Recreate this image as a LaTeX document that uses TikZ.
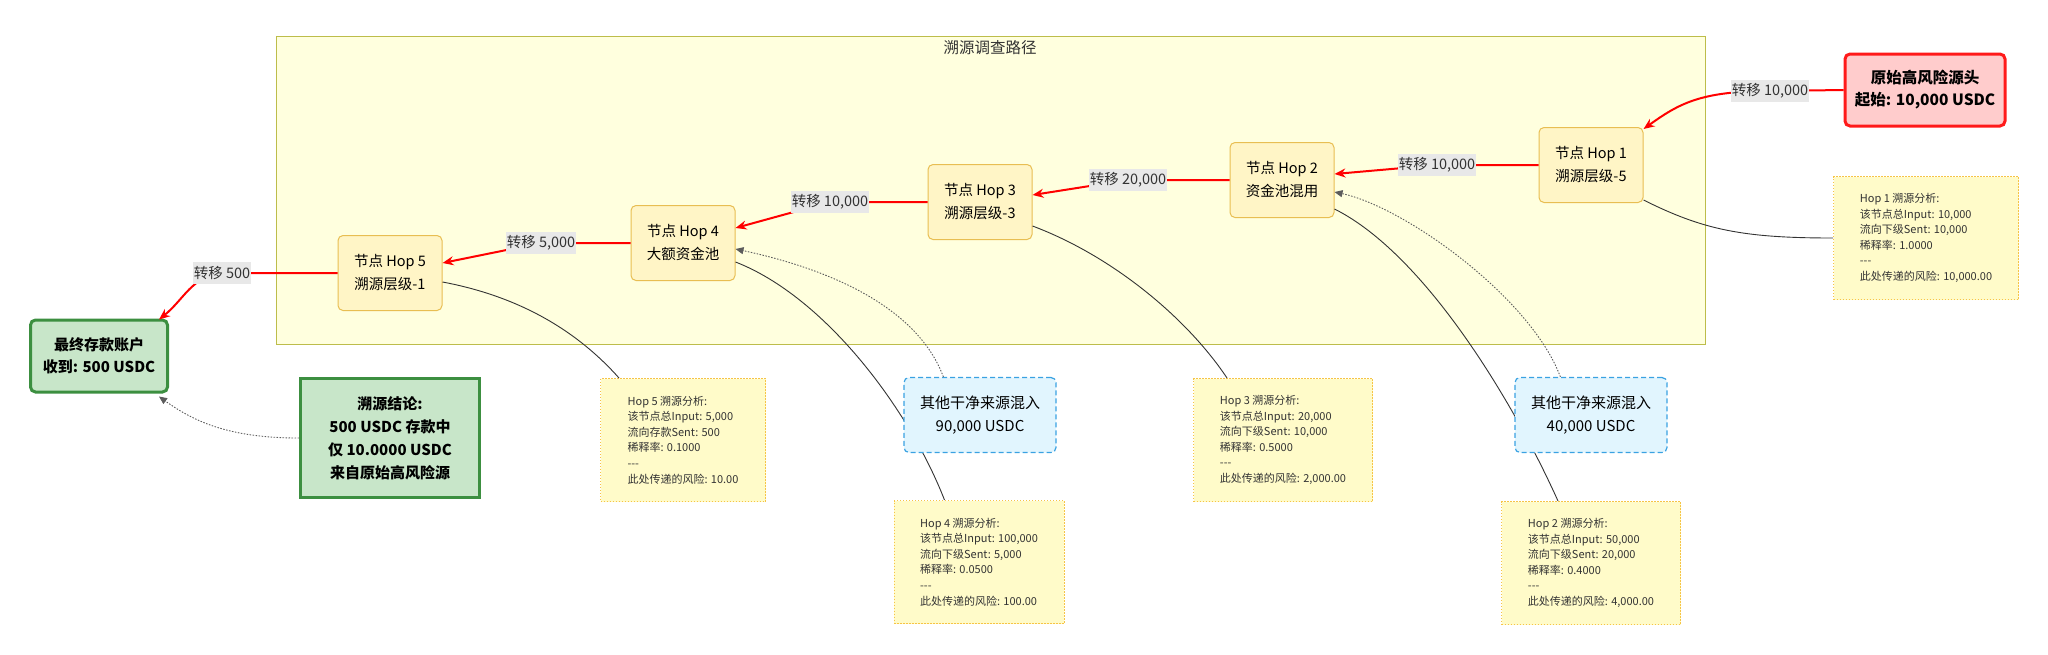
\documentclass[tikz,border=0pt]{standalone}
\usepackage{fontspec}
\setmainfont{Noto Sans CJK SC}
\usetikzlibrary{arrows.meta}

\definecolor{clfill}{HTML}{FFFFDE}
\definecolor{cldraw}{HTML}{BDBD4A}
\definecolor{hopfill}{HTML}{FFF5C6}
\definecolor{hopdraw}{HTML}{E8BE52}
\definecolor{srcfill}{HTML}{FFCCCC}
\definecolor{srcdraw}{HTML}{FF1A1A}
\definecolor{okfill}{HTML}{C8E6C9}
\definecolor{okdraw}{HTML}{3C8F40}
\definecolor{mixfill}{HTML}{E1F5FE}
\definecolor{mixdraw}{HTML}{3AA2E2}
\definecolor{notefill}{HTML}{FFFBC9}
\definecolor{notedraw}{HTML}{F6C446}
\definecolor{txt}{HTML}{333333}
\definecolor{lblfill}{HTML}{E8E8E8}

\begin{document}
\begin{tikzpicture}
  [x=1pt,y=-1pt,
   clbox/.style={draw=cldraw,fill=clfill,line width=1pt,inner sep=0pt,minimum width=1429pt,minimum height=308pt},
   cltitle/.style={text=txt,font=\fontsize{15.5}{18}\selectfont,inner sep=0pt},
   hop/.style={draw=hopdraw,fill=hopfill,rounded corners=5pt,line width=1pt,minimum width=104pt,minimum height=75pt,align=center,text=black,font=\fontsize{14.5}{23}\selectfont},
   src/.style={draw=srcdraw,fill=srcfill,rounded corners=5pt,line width=3pt,minimum width=160pt,minimum height=72pt,align=center,font=\bfseries\fontsize{15.5}{22}\selectfont},
   dst/.style={draw=okdraw,fill=okfill,rounded corners=5pt,line width=3pt,minimum width=137pt,minimum height=72pt,align=center,font=\bfseries\fontsize{15}{22}\selectfont},
   verdict/.style={draw=okdraw,fill=okfill,line width=3pt,minimum width=179pt,minimum height=119pt,align=center,font=\bfseries\fontsize{15}{23}\selectfont},
   mix/.style={draw=mixdraw,fill=mixfill,rounded corners=5pt,line width=1.2pt,dash pattern=on 5pt off 3pt,minimum width=152pt,minimum height=75pt,align=center,text=black,font=\fontsize{15}{23}\selectfont},
   note/.style={draw=notedraw,fill=notefill,line width=1pt,dash pattern=on 1.5pt off 1.5pt,minimum height=123pt,align=left,text=txt,font=\fontsize{11}{15.6}\selectfont},
   elabel/.style={fill=lblfill,text=txt,inner xsep=1pt,inner ysep=0pt,minimum height=22pt,font=\fontsize{14.5}{17}\selectfont},
   flow/.style={draw=red,line width=2pt,-{Stealth[length=11pt,width=9pt]}},
   link/.style={draw=txt,line width=0.9pt},
   mixflow/.style={draw=txt!80,line width=0.9pt,dash pattern=on 1.5pt off 1.5pt,-{Triangle[length=8pt,width=7pt]}}]
  \useasboundingbox (0,0) rectangle (2048,654);

  % cluster
  \node[clbox] (cl) at (990.5,190) {};
  \node[cltitle] (cltxt) at (990,48) {溯源调查路径};

  \node[src] (src) at (1925,90) {原始高风险源头\\起始: 10,000 USDC};
  \node[hop] (h1) at (1591,165) {节点 Hop 1\\溯源层级-5};
  \node[hop] (h2) at (1282,180) {节点 Hop 2\\资金池混用};
  \node[hop] (h3) at (980,202) {节点 Hop 3\\溯源层级-3};
  \node[hop] (h4) at (683,243) {节点 Hop 4\\大额资金池};
  \node[hop] (h5) at (390,273) {节点 Hop 5\\溯源层级-1};
  \node[dst] (dst) at (99,356) {最终存款账户\\收到: 500 USDC};
  \node[verdict] (res) at (390,438) {溯源结论:\\500 USDC 存款中\\仅 10.0000 USDC\\来自原始高风险源};

  % notes
  \node[note,minimum width=185pt] (n1) at (1926,238) {Hop 1 溯源分析:\\该节点总Input: 10,000\\流向下级Sent: 10,000\\稀释率: 1.0000\\-{}-{}-\\此处传递的风险: 10,000.00};
  \node[note,minimum width=179pt] (n2) at (1591,563) {Hop 2 溯源分析:\\该节点总Input: 50,000\\流向下级Sent: 20,000\\稀释率: 0.4000\\-{}-{}-\\此处传递的风险: 4,000.00};
  \node[note,minimum width=179pt] (n3) at (1283,440) {Hop 3 溯源分析:\\该节点总Input: 20,000\\流向下级Sent: 10,000\\稀释率: 0.5000\\-{}-{}-\\此处传递的风险: 2,000.00};
  \node[note,minimum width=170pt] (n4) at (979,562) {Hop 4 溯源分析:\\该节点总Input: 100,000\\流向下级Sent: 5,000\\稀释率: 0.0500\\-{}-{}-\\此处传递的风险: 100.00};
  \node[note,minimum width=165pt] (n5) at (683,440) {Hop 5 溯源分析:\\该节点总Input: 5,000\\流向存款Sent: 500\\稀释率: 0.1000\\-{}-{}-\\此处传递的风险: 10.00};

  \draw[link] ([yshift=3pt]h1.south east) .. controls +(60,30) and +(-90,0) .. (n1.west);
  \draw[link] ([yshift=9pt]h2.south east) .. controls +(90,45) and +(-45,-100) .. ([xshift=57pt]n2.north west);
  \draw[link] ([yshift=14pt]h3.south east) .. controls +(80,30) and +(-40,-60) .. ([xshift=34pt]n3.north west);
  \draw[link] ([yshift=19pt]h4.south east) .. controls +(90,35) and +(-35,-90) .. ([xshift=51pt]n4.north west);
  \draw[link] ([yshift=29pt]h5.south east) .. controls +(80,15) and +(-40,-45) .. ([xshift=19pt]n5.north west);

  \node[mix] (m1) at (980,415) {其他干净来源混入\\90,000 USDC};
  \node[mix] (m2) at (1591,415) {其他干净来源混入\\40,000 USDC};

  \draw[mixflow] ([xshift=40pt]m1.north west) .. controls +(-30,-80) and +(70,15) .. ([yshift=-6pt]h4.east);
  \draw[mixflow] ([xshift=46pt]m2.north west) .. controls +(-30,-80) and +(70,15) .. ([yshift=-12pt]h2.east);
  \draw[mixflow] (res.west) .. controls +(-70,0) and +(35,25) .. ([xshift=-10pt,yshift=-3pt]dst.south east);

  % transfers
  \coordinate (t0) at (1770,91);
  \coordinate (t1) at (1437,165);
  \coordinate (t2) at (1128,180);
  \coordinate (t3) at (830,202);
  \coordinate (t4) at (541,243);
  \coordinate (t5) at (222,273);
  \draw[flow] (src.west) -- (t0) .. controls +(-70,0) and +(35,-25) .. ([yshift=-2pt]h1.north east);
  \draw[flow] (h1.west) -- (t1) -- ([yshift=6pt]h2.east);
  \draw[flow] (h2.west) -- (t2) -- ([yshift=7pt]h3.east);
  \draw[flow] (h3.west) -- (t3) -- ([yshift=15pt]h4.east);
  \draw[flow] (h4.west) -- (t4) -- ([yshift=10pt]h5.east);
  \draw[flow] (h5.west) -- (t5) .. controls +(-30,3) and +(25,-20) .. ([xshift=-10pt,yshift=-1pt]dst.north east);
  \node[elabel] (l0) at (t0) {转移 10,000};
  \node[elabel] (l1) at (t1) {转移 10,000};
  \node[elabel] (l2) at (t2) {转移 20,000};
  \node[elabel] (l3) at (t3) {转移 10,000};
  \node[elabel] (l4) at (t4) {转移 5,000};
  \node[elabel] (l5) at (t5) {转移 500};
\end{tikzpicture}
\end{document}
